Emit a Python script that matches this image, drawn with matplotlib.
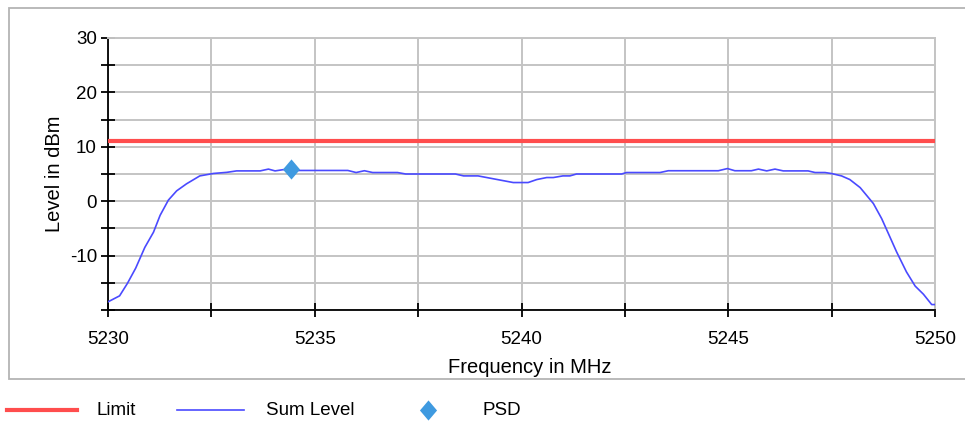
import matplotlib
matplotlib.use("Agg")
import matplotlib.pyplot as plt
from matplotlib.patches import Rectangle
from matplotlib.lines import Line2D
from matplotlib.ticker import MultipleLocator

plt.rcParams['font.family'] = ['Liberation Sans', 'DejaVu Sans']
plt.rcParams['axes.unicode_minus'] = False

# Sum level trace (MHz, dBm)
freq = [5230.00, 5230.28, 5230.47, 5230.67, 5230.89, 5231.10, 5231.26, 5231.46,
        5231.66, 5231.90, 5232.22, 5232.55, 5232.87, 5233.11, 5233.68, 5233.88,
        5234.04, 5234.24, 5234.44, 5235.80, 5236.00, 5236.20, 5236.40, 5237.00,
        5237.20, 5238.40, 5238.60, 5238.95, 5239.80, 5240.16, 5240.37, 5240.61,
        5240.77, 5241.00, 5241.17, 5241.33, 5242.42, 5242.54, 5243.35, 5243.55,
        5244.76, 5244.98, 5245.16, 5245.56, 5245.73, 5245.93, 5246.13, 5246.33,
        5246.93, 5247.10, 5247.34, 5247.50, 5247.74, 5247.94, 5248.19, 5248.51,
        5248.71, 5248.87, 5249.07, 5249.31, 5249.52, 5249.72, 5249.92, 5250.00]
level = [-18.5, -17.4, -15.1, -12.3, -8.5, -5.7, -2.6, 0.2,
         1.9, 3.2, 4.65, 5.1, 5.3, 5.57, 5.57, 5.9,
         5.57, 5.8, 5.65, 5.65, 5.27, 5.6, 5.27, 5.27,
         5.0, 5.0, 4.65, 4.65, 3.43, 3.43, 3.98, 4.35,
         4.35, 4.65, 4.65, 5.0, 5.0, 5.27, 5.27, 5.6,
         5.6, 6.0, 5.6, 5.6, 5.9, 5.57, 5.9, 5.57,
         5.57, 5.27, 5.27, 5.08, 4.65, 3.98, 2.5, -0.43,
         -3.2, -5.9, -9.3, -13.0, -15.6, -17.1, -19.0, -19.0]

limit_freq = [5230, 5250]
limit_level = [11.0, 11.0]

psd_freq = [5234.42]
psd_level = [5.9]

x_ticks = [5230, 5235, 5240, 5245, 5250]
y_ticks = [-10, 0, 10, 20, 30]

red = '#ff4d4d'
blue = '#4a4aff'
psd_col = '#3f9ae0'
grid_col = '#c4c4c4'
fs = 13.5
lab_fs = 14.5

diamond = [(0, 1), (0.85, 0), (0, -1), (-0.85, 0), (0, 1)]

fig = plt.figure(figsize=(9.65, 4.23), dpi=100)

# outer frame
fig.patches.append(Rectangle((9 / 965, 1 - 379 / 423), 1.0, (379 - 8) / 423,
                             transform=fig.transFigure, facecolor='white',
                             edgecolor='#b4b4b4', linewidth=1.3, zorder=-10))

ax = fig.add_axes([108 / 965, 1 - 310 / 423, 827 / 965, 272 / 423])
ax.patch.set_alpha(0)
ax.set_xlim(5230, 5250)
ax.set_ylim(-20, 30)

ax.plot(limit_freq, limit_level, color=red, lw=3, zorder=3)
ax.plot(freq, level, color=blue, lw=1.2, zorder=4)
ax.plot(psd_freq, psd_level, linestyle='none', marker=diamond, markersize=14.5,
        color=psd_col, markeredgewidth=0, zorder=5)

ax.set_xticks(x_ticks)
ax.set_yticks(y_ticks)
ax.xaxis.set_minor_locator(MultipleLocator(2.5))
ax.yaxis.set_minor_locator(MultipleLocator(5))
ax.grid(True, which='both', color=grid_col, lw=1.4)
ax.set_axisbelow(True)

for side in ['top', 'right']:
    ax.spines[side].set_color(grid_col)
    ax.spines[side].set_linewidth(1.4)
for side in ['left', 'bottom']:
    ax.spines[side].set_color('black')
    ax.spines[side].set_linewidth(1.3)

ax.tick_params(which='both', direction='inout', length=10, width=1.3, color='black',
               labelsize=fs)
ax.tick_params(axis='x', which='both', pad=10)
ax.tick_params(axis='y', which='both', pad=3)

ax.set_xlabel('Frequency in MHz', fontsize=lab_fs)
ax.set_ylabel('Level in dBm', fontsize=lab_fs)
ax.xaxis.set_label_coords((530 - 108) / 827, (310 - 358) / 272)
ax.yaxis.set_label_coords((64 - 108) / 827, 0.5)

# legend below the frame
ly = 1 - 410 / 423
fig.add_artist(Line2D([7 / 965, 77 / 965], [ly, ly], color=red, lw=3,
                      transform=fig.transFigure))
fig.text(97 / 965, ly, 'Limit', fontsize=fs, va='center')
fig.add_artist(Line2D([177 / 965, 244 / 965], [ly, ly], color=blue, lw=1.2,
                      transform=fig.transFigure))
fig.text(266 / 965, ly, 'Sum Level', fontsize=fs, va='center')
fig.add_artist(Line2D([428 / 965], [ly], linestyle='none', marker=diamond,
                      markersize=14.5, color=psd_col, markeredgewidth=0,
                      transform=fig.transFigure))
fig.text(483 / 965, ly, 'PSD', fontsize=fs, va='center')

fig.savefig('out.png', dpi=100)
